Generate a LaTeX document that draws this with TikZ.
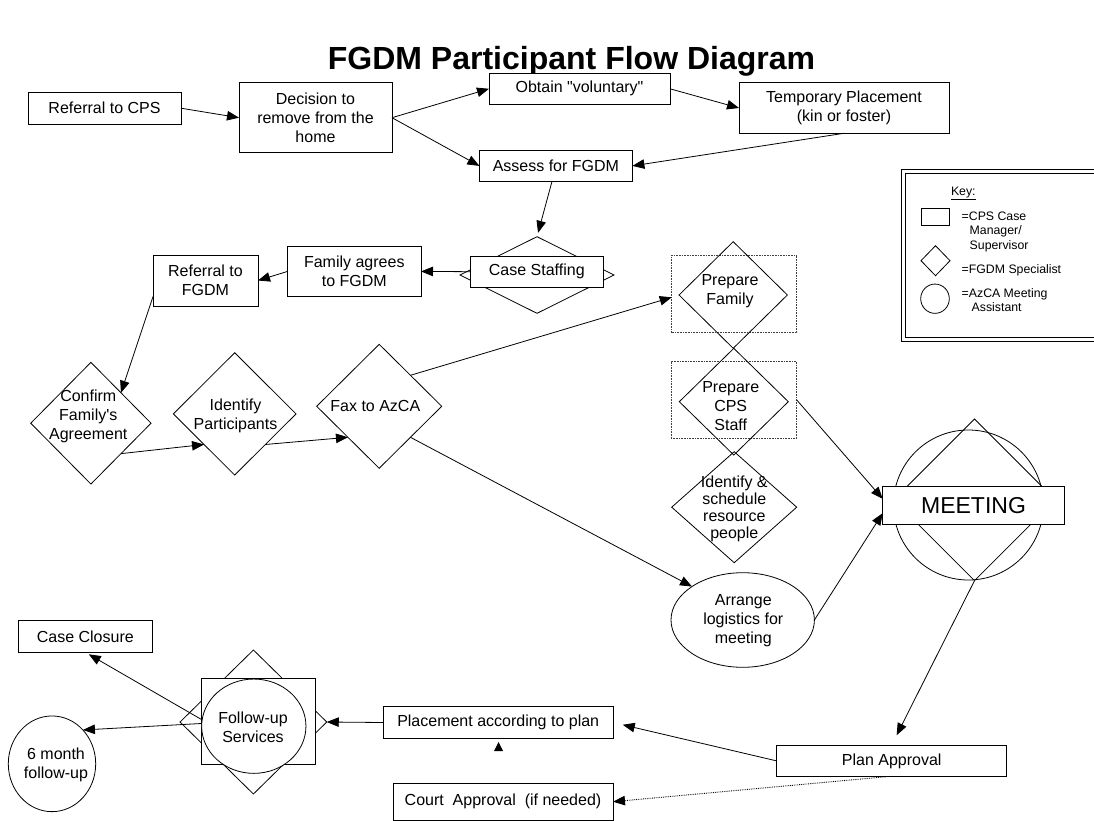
\documentclass[tikz,border=0pt]{standalone}
\usepackage{fontspec}
\setmainfont{Liberation Sans}
\usetikzlibrary{shapes.geometric,arrows.meta,calc}
\newcommand\mfs{\fontsize{16}{19}\selectfont}
\newcommand\kfs{\fontsize{12.3}{14.3}\selectfont}
\begin{document}
\begin{tikzpicture}[x=1pt,y=-1pt,
  every node/.style={inner sep=0pt,outer sep=0pt},
  shp/.style={draw,line width=0.8pt},
  boxn/.style={shp,rectangle,fill=white,font=\mfs,align=center},
  dia/.style={shp,diamond},
  ell/.style={shp,ellipse},
  txt/.style={font=\mfs,align=center},
  arr/.style={line width=0.8pt,-{Triangle[length=12pt,width=9.5pt]}},
  dotbox/.style={draw=black!75,densely dotted,line width=0.6pt,rectangle},
  ktxt/.style={font=\kfs,align=left,anchor=west}]
\useasboundingbox (0,0) rectangle (1094,821);
\clip (0,0) rectangle (1094,821);

% title
\node[font=\fontsize{32}{38}\selectfont\bfseries, anchor=base] (title) at (571.5,70) {FGDM Participant Flow Diagram};

% top row
\node[boxn,minimum width=153,minimum height=31.7] (refcps) at (104.5,108.2) {Referral to CPS};
\node[boxn,minimum width=153,minimum height=70] (decision) at (315.5,117.7) {Decision to\\remove from the\\home};
\node[boxn,minimum width=181,minimum height=31] (obtain) at (579.5,88.8) {Obtain \textquotedbl voluntary\textquotedbl};
\node[boxn,minimum width=210,minimum height=50.6] (temp) at (844,108) {Temporary Placement\\(kin or foster)};
\node[boxn,minimum width=153,minimum height=31.7] (assess) at (555.9,165.9) {Assess for FGDM};

% case staffing row
\node[dia,minimum width=154,minimum height=76.6] (csdia) at (537,275) {};
\node[boxn,minimum width=133.5,minimum height=31.3] (cs) at (536.8,271.7) {Case Staffing};
\node[boxn,minimum width=133.4,minimum height=50.7] (family) at (354.3,271.4) {Family agrees\\to FGDM};
\node[boxn,minimum width=105,minimum height=51] (reffgdm) at (205.5,280.5) {Referral to\\FGDM};

% diamonds row
\node[dia,minimum width=120.3,minimum height=121.7] (confirm) at (90.9,423.2) {};
\node[txt] (tconfirm) at (88.3,416) {Confirm\\Family\textquotesingle s\\Agreement};
\node[dia,minimum width=122.7,minimum height=122.3] (identify) at (234.7,413.9) {};
\node[txt] (tidentify) at (235.5,416.2) {Identify\\Participants};
\node[dia,minimum width=125,minimum height=124] (fax) at (379.2,406.3) {};
\node[txt] (tfax) at (375.3,406) {Fax to AzCA};

% preparation column
\node[dotbox,minimum width=125,minimum height=77.7] (pfbox) at (734.2,293.9) {};
\node[dia,minimum width=108.3,minimum height=106.6] (pfdia) at (733.2,295) {};
\node[txt] (tpf) at (730,291.2) {Prepare\\Family};
\node[dotbox,minimum width=125.7,minimum height=76.6] (pcbox) at (733.9,400) {};
\node[dia,minimum width=109,minimum height=106.7] (pcdia) at (733.8,401.7) {};
\node[txt] (tpc) at (730.7,405.8) {Prepare\\CPS\\Staff};
\node[dia,minimum width=125,minimum height=111] (idsched) at (734.2,507.2) {};
\node[txt,font=\fontsize{16}{17}\selectfont] (tidsched) at (734.3,508.8) {Identify \&\\schedule\\resource\\people};
\node[ell,minimum width=143.4,minimum height=94.6] (arrange) at (742.7,620) {};
\node[txt] (tarrange) at (743.3,620.5) {Arrange\\logistics for\\meeting};

% meeting
\node[shp,circle,minimum size=150] (meetcirc) at (968.4,505) {};
\node[dia,minimum width=161.7,minimum height=161.7] (meetdia) at (974.5,499.8) {};
\node[boxn,minimum width=181.6,minimum height=38.3,font=\fontsize{23}{27}\selectfont] (meeting) at (973.5,505.2) {MEETING};

% bottom
\node[boxn,minimum width=230,minimum height=31.7] (plan) at (891.7,760.9) {Plan Approval};
\node[boxn,minimum width=229.6,minimum height=31.6] (placement) at (498.2,722.5) {Placement according to plan};
\node[boxn,minimum width=220,minimum height=36.7] (court) at (503,801.7) {Court~~Approval~~(if needed)};
\node[boxn,minimum width=134,minimum height=31.6] (closure) at (85.3,636.5) {Case Closure};
\node[dia,minimum width=146.7,minimum height=144] (fudia) at (253.4,722) {};
\node[shp,rectangle,fill=white,minimum width=114.7,minimum height=85.7] (fusq) at (258.3,721.2) {};
\node[ell,fill=white,minimum width=104.3,minimum height=94.3] (fuell) at (253.8,726.2) {};
\node[txt] (tfu) at (253,727) {Follow-up\\Services};
\node[ell,minimum width=87.4,minimum height=95.7] (sixm) at (52,763.8) {};
\node[txt] (tsixm) at (56,765) {6 month\\follow-up};

% key
\node[draw,line width=1.3pt,rectangle,minimum width=198,minimum height=172.4,anchor=north west] (keyout) at (901.7,169.3) {};
\node[draw,line width=0.7pt,rectangle,minimum width=194,minimum height=164.4,anchor=north west] (keyin) at (905.7,173.3) {};
\node[ktxt] (keyt) at (951,193.3) {\underline{Key:}};
\node[shp,rectangle,minimum width=28.3,minimum height=17.3] (ksq) at (935.2,217) {};
\node[ktxt] (k1) at (961.7,231.7) {=CPS Case\\\hspace*{8pt}Manager/\\\hspace*{8pt}Supervisor};
\node[dia,minimum width=29,minimum height=30] (kdia) at (935.5,260.7) {};
\node[ktxt] (k2) at (961.7,270) {=FGDM Specialist};
\node[ell,minimum width=28.6,minimum height=29.3] (kell) at (935,298.7) {};
\node[ktxt] (k3) at (961.7,300.3) {=AzCA Meeting\\\hspace*{10pt}Assistant};

% connectors
\draw[arr] (refcps.east) -- (decision.west);
\draw[arr] (decision.east) -- (obtain.west);
\draw[arr] (decision.east) -- (assess.west);
\draw[arr] (obtain.east) -- (temp.west);
\draw[arr] (temp.south) -- (assess.east);
\draw[arr,shorten >=4pt] ($(assess.south)+(-4,0)$) -- (csdia.north);
\draw[arr] (cs.west) -- (family.east);
\draw[arr] (family.west) -- (reffgdm.east);
\draw[arr] (reffgdm.197) -- (confirm.north east);
\draw[arr] (confirm.south east) -- (identify.south west);
\draw[arr] (identify.south east) -- (fax.south west);
\draw[arr] (fax.north east) -- ($(pfbox.west)+(0,3.4)$);
\draw[arr] (fax.south east) -- (arrange.north west);
\draw[arr] (pcbox.east) -- (meeting.176);
\draw[arr] (arrange.east) -- (meeting.185);
\draw[arr,shorten >=11pt] (meetdia.south) -- (plan.north);
\draw[arr,shorten >=10pt] (plan.west) -- (placement.east);
\draw[arr,densely dotted,line width=0.9pt] ($(plan.south)+(-5.7,0)$) -- (court.east);
\draw[arr] (placement.west) -- (fudia.east);
\draw[arr,shorten >=4pt] (fuell.173) -- (closure.south);
\draw[arr] (fuell.177) -- (sixm.north east);

% lone arrowhead below placement
\coordinate (lonetip) at (498.5,742);
\fill (lonetip) -- ++(-4.5,9) -- ++(9,0) -- cycle;
\end{tikzpicture}
\end{document}
